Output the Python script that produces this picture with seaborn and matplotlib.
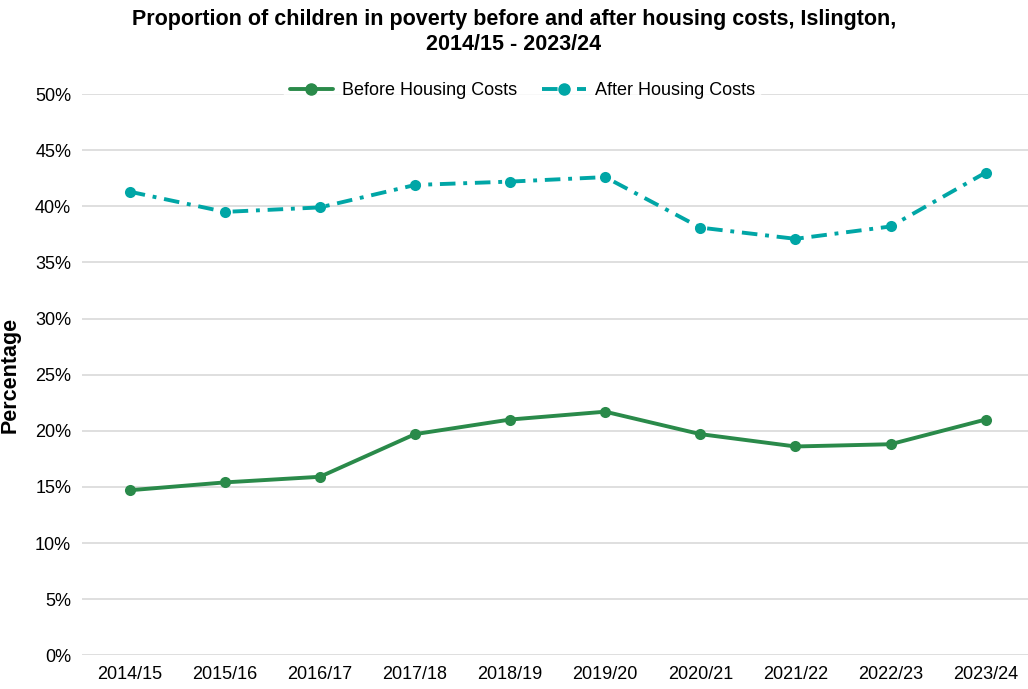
import matplotlib.pyplot as plt
import pandas as pd
import seaborn as sns

years = ["2014/15", "2015/16", "2016/17", "2017/18", "2018/19",
         "2019/20", "2020/21", "2021/22", "2022/23", "2023/24"]
before_hc = [14.7, 15.4, 15.9, 19.7, 21.0, 21.7, 19.7, 18.6, 18.8, 21.0]
after_hc = [41.3, 39.5, 39.9, 41.9, 42.2, 42.6, 38.1, 37.1, 38.2, 43.0]

df = pd.DataFrame({
    "year": years * 2,
    "value": before_hc + after_hc,
    "series": ["Before Housing Costs"] * len(years) + ["After Housing Costs"] * len(years),
})

sns.set_style("white")
plt.rcParams["font.family"] = ["Liberation Sans", "DejaVu Sans"]
plt.rcParams["text.color"] = "black"
plt.rcParams["axes.labelcolor"] = "black"

fig = plt.figure(figsize=(10.28, 6.89), dpi=100)
ax = fig.add_axes([0.080, 0.049, 0.925, 0.8145])

palette = {"Before Housing Costs": "#2A8A4A", "After Housing Costs": "#00A6A6"}
sns.lineplot(data=df, x="year", y="value", hue="series", palette=palette,
             style="series", dashes={"Before Housing Costs": "", "After Housing Costs": (4, 2, 1, 2)},
             markers={"Before Housing Costs": "o", "After Housing Costs": "o"},
             markersize=8, markeredgewidth=0, linewidth=2.8, ax=ax, legend=False, sort=False)

ax.set_xlim(-0.5, 9.5)
ax.set_ylim(0, 50)
ax.set_yticks(range(0, 51, 5))
ax.set_yticklabels([f"{v}%" for v in range(0, 51, 5)])
ax.grid(axis="y", color="#D9D9D9", linewidth=1.2)
ax.set_axisbelow(True)
for s in ax.spines.values():
    s.set_visible(False)
ax.tick_params(axis="both", labelsize=13, length=0, colors="black", pad=8)
ax.set_xlabel("")
ax.set_ylabel("Percentage", fontsize=15.5, fontweight="bold", labelpad=10)

handles = [
    plt.Line2D([], [], color=palette["Before Housing Costs"], linewidth=2.8, marker="o", markersize=8),
    plt.Line2D([], [], color=palette["After Housing Costs"], linewidth=2.8, marker="o", markersize=8,
               linestyle=(0, (4, 2, 1, 2))),
]
leg = fig.legend(handles, ["Before Housing Costs", "After Housing Costs"], loc="center",
                 bbox_to_anchor=(0.508, 0.868), ncol=2, frameon=True, fontsize=13,
                 handlelength=2.4, handletextpad=0.5, columnspacing=1.4, borderpad=0.3)
leg.get_frame().set_facecolor("white")
leg.get_frame().set_edgecolor("white")

fig.suptitle("Proportion of children in poverty before and after housing costs, Islington,\n2014/15 - 2023/24",
             fontsize=15.5, fontweight="bold", y=0.987, linespacing=1.25)

fig.savefig("out.png", dpi=100)
